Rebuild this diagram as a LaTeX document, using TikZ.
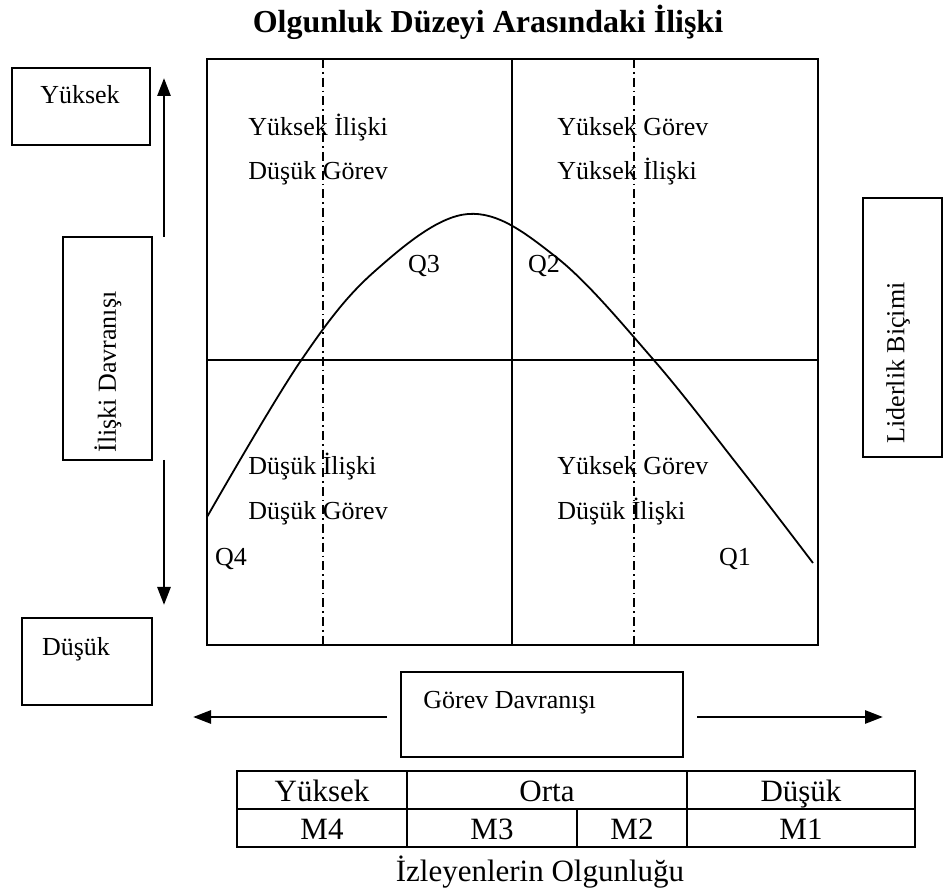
\documentclass[tikz,border=0pt]{standalone}
\usepackage{fontspec}
\setmainfont{Liberation Serif}
\usetikzlibrary{arrows.meta, positioning}

\begin{document}
\begin{tikzpicture}[
    x=0.5pt, y=-0.5pt,
    box/.style={rectangle, draw, line width=0.8pt, inner sep=0pt},
    txt/.style={inner sep=0pt, font=\fontsize{13}{15}\selectfont},
    tabtxt/.style={inner sep=0pt, font=\fontsize{15.5}{18}\selectfont},
    arrow/.style={-{Triangle[length=9pt, width=6.5pt]}, line width=1.4pt},
    quarter/.style={dash pattern=on 4.5pt off 2pt on 0.8pt off 2pt, line width=0.8pt}
]
    \useasboundingbox (0,0) rectangle (944,893);

    % title
    \node[inner sep=0pt, anchor=base, font=\bfseries\fontsize{16}{19}\selectfont] (title) at (488,33) {Olgunluk Düzeyi Arasındaki İlişki};

    % quadrants
    \draw[line width=1.1pt] (207,59) rectangle (818,645);
    \draw[line width=1.1pt] (512,59) -- (512,645);
    \draw[line width=1.1pt] (207,360) -- (818,360);
    \draw[quarter] (323,59) -- (323,645);
    \draw[quarter] (634,59) -- (634,645);

    % curve
    \draw[line width=0.9pt] plot[smooth, tension=0.6] coordinates {(207,517) (300,362) (375,271) (468,214) (556,257) (652,358) (740,468) (813,563)};

    \node[txt, anchor=base west] (hi1) at (248,136) {Yüksek İlişki};
    \node[txt, anchor=base west] (lt1) at (248,180) {Düşük Görev};
    \node[txt, anchor=base west] (ht2) at (557,136) {Yüksek Görev};
    \node[txt, anchor=base west] (hi2) at (557,180) {Yüksek İlişki};
    \node[txt, anchor=base west] (li4) at (248,475) {Düşük İlişki};
    \node[txt, anchor=base west] (lt4) at (248,520) {Düşük Görev};
    \node[txt, anchor=base west] (ht1) at (557,475) {Yüksek Görev};
    \node[txt, anchor=base west] (li1) at (557,520) {Düşük İlişki};
    \node[txt, anchor=base] (q3) at (424,273) {Q3};
    \node[txt, anchor=base] (q2) at (544,273) {Q2};
    \node[txt, anchor=base] (q4) at (231,566) {Q4};
    \node[txt, anchor=base] (q1) at (735,566) {Q1};

    % left side
    \node[box, minimum width=69pt, minimum height=38.5pt] (highbox) at (81,106.5) {};
    \node[txt, anchor=base] (high) at (80,104) {Yüksek};
    \node[box, minimum width=44.5pt, minimum height=111.5pt] (relbox) at (107.5,348.5) {};
    \node[txt, rotate=90] (rel) at (108,372) {İlişki Davranışı};
    \node[box, minimum width=65pt, minimum height=43.5pt] (lowbox) at (87,661.5) {};
    \node[txt, anchor=base] (low) at (76,655) {Düşük};
    \coordinate (upfrom) at (164,237);
    \coordinate (upto) at (164,78);
    \coordinate (downfrom) at (164,460);
    \coordinate (downto) at (164,605);
    \draw[arrow] (upfrom) -- (upto);
    \draw[arrow] (downfrom) -- (downto);

    % right side
    \node[box, minimum width=39.5pt, minimum height=129.5pt] (stylebox) at (902.5,327.5) {};
    \node[txt, rotate=90] (style) at (898,363) {Liderlik Biçimi};

    % bottom
    \node[box, minimum width=141pt, minimum height=42.5pt] (taskbox) at (542,714.5) {};
    \node[txt, anchor=base west] (task) at (423,709) {Görev Davranışı};
    \coordinate (leftfrom) at (387,717);
    \coordinate (leftto) at (193,717);
    \coordinate (rightfrom) at (697,717);
    \coordinate (rightto) at (883,717);
    \draw[arrow] (leftfrom) -- (leftto);
    \draw[arrow] (rightfrom) -- (rightto);

    % maturity table
    \draw[line width=1pt] (237,771) rectangle (915,847);
    \draw[line width=1pt] (237,809) -- (915,809);
    \draw[line width=1pt] (407,771) -- (407,847);
    \draw[line width=1pt] (687,771) -- (687,847);
    \draw[line width=1pt] (577,809) -- (577,847);
    \node[tabtxt, anchor=base] (mhigh) at (322,801) {Yüksek};
    \node[tabtxt, anchor=base] (mmid) at (547,801) {Orta};
    \node[tabtxt, anchor=base] (mlow) at (801,801) {Düşük};
    \node[tabtxt, anchor=base] (m4) at (322,839) {M4};
    \node[tabtxt, anchor=base] (m3) at (492,839) {M3};
    \node[tabtxt, anchor=base] (m2) at (632,839) {M2};
    \node[tabtxt, anchor=base] (m1) at (801,839) {M1};
    \node[tabtxt, anchor=base] (maturity) at (540,881) {İzleyenlerin Olgunluğu};
\end{tikzpicture}
\end{document}
